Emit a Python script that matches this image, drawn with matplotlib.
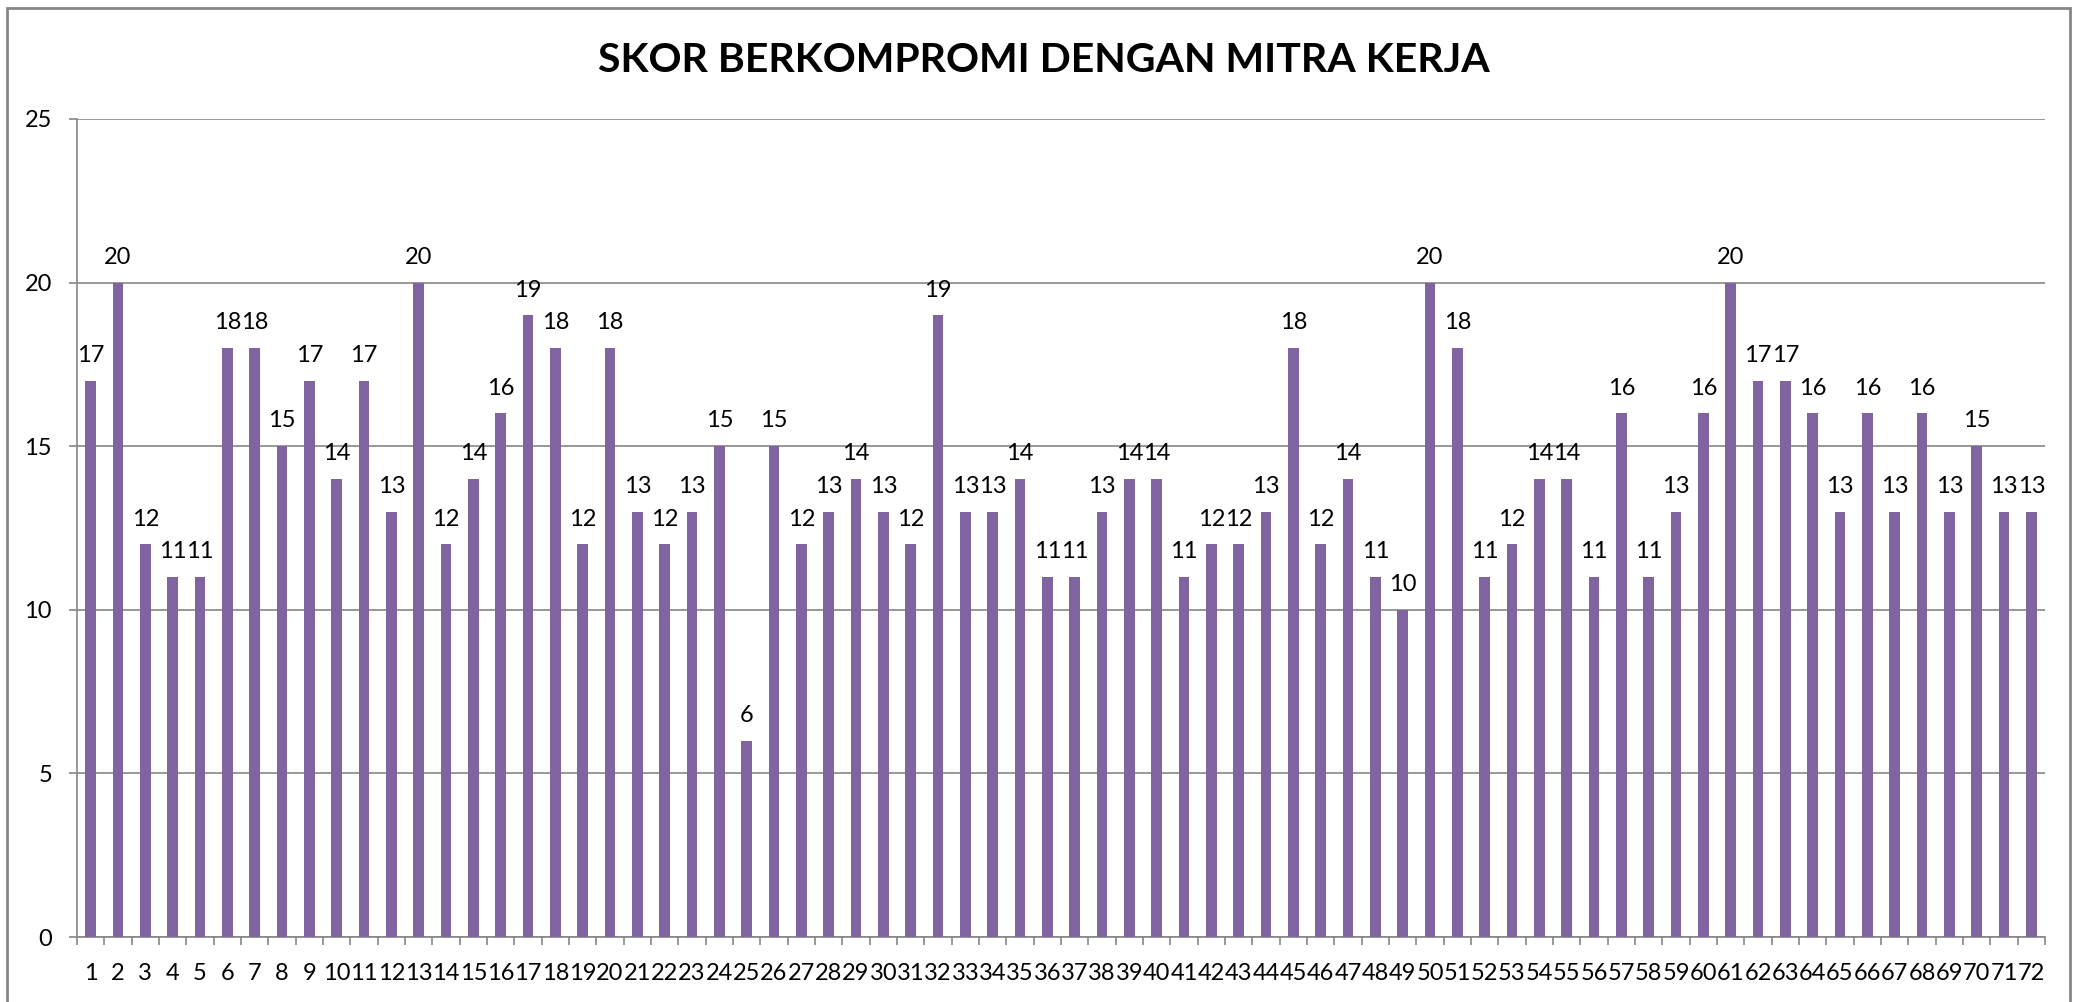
import numpy as np
import matplotlib.pyplot as plt
from matplotlib.patches import Rectangle

plt.rcParams['font.family'] = ['Lato', 'DejaVu Sans']

respondents = [str(i) for i in range(1, 73)]
scores = [17, 20, 12, 11, 11, 18, 18, 15, 17, 14, 17, 13, 20, 12, 14, 16, 19, 18,
          12, 18, 13, 12, 13, 15, 6, 15, 12, 13, 14, 13, 12, 19, 13, 13, 14, 11,
          11, 13, 14, 14, 11, 12, 12, 13, 18, 12, 14, 11, 10, 20, 18, 11, 12, 14,
          14, 11, 16, 11, 13, 16, 20, 17, 17, 16, 13, 16, 13, 16, 13, 15, 13, 13]
y_ticks = [0, 5, 10, 15, 20, 25]

W, H = 2087, 1002
fig = plt.figure(figsize=(W / 100, H / 100), dpi=100)
ax = fig.add_axes([77 / W, 1 - 937 / H, (2045 - 77) / W, (937 - 119) / H])

grey = '#868686'
x = np.arange(len(scores))
ax.bar(x, scores, width=0.4, color='#8064A2', zorder=3)

# data labels sit a bit above the bar tops, like excel "outside end"
for xi, v in zip(x, scores):
    ax.annotate(str(v), (xi, v), xytext=(0, 13.5), textcoords='offset points',
                ha='center', va='baseline', fontsize=17)

ax.set_xlim(-0.5, len(scores) - 0.5)
ax.set_ylim(0, 25)
ax.set_yticks(y_ticks)
ax.set_xticks(x)
ax.set_xticklabels(respondents)
ax.set_xticks(np.arange(-0.5, len(scores)), minor=True)
ax.tick_params(axis='x', which='major', length=0, pad=19, labelsize=17)
ax.tick_params(axis='x', which='minor', length=6, width=1.2, color=grey, direction='out')
ax.tick_params(axis='y', length=6, width=1.2, color=grey, pad=12, labelsize=17)
ax.grid(axis='y', color=grey, linewidth=1.2, zorder=0)

for s in ['top', 'right']:
    ax.spines[s].set_visible(False)
for s in ['left', 'bottom']:
    ax.spines[s].set_color(grey)
    ax.spines[s].set_linewidth(1.2)

fig.text(0.5, 1 - 60 / H, 'SKOR BERKOMPROMI DENGAN MITRA KERJA',
         ha='center', va='center', fontsize=29.5, fontweight='bold')

fig.patches.append(Rectangle((7 / W, -0.05), (2070 - 7) / W, 1.05 - 8 / H,
                             transform=fig.transFigure, fill=False,
                             edgecolor=grey, linewidth=2))

fig.savefig('out.png', dpi=100)
